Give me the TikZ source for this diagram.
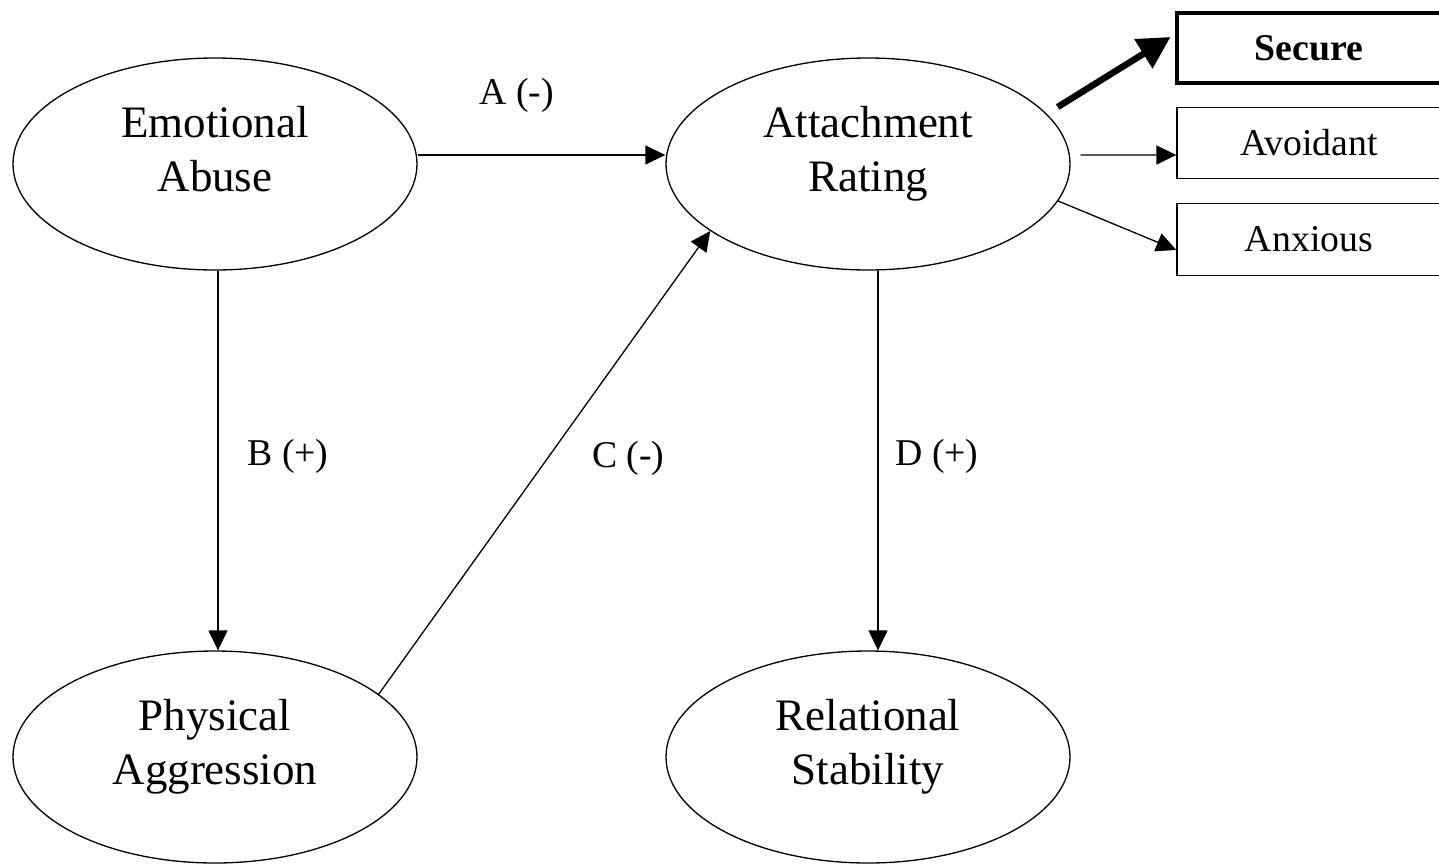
\documentclass[tikz,border=0pt]{standalone}
\usepackage{fontspec}
\setmainfont{Liberation Serif}
\usepackage{tikz}
\usetikzlibrary{shapes.geometric, arrows.meta}
\newcommand{\lowstrut}{\rule[-0.6cm]{0pt}{0pt}}
\tikzstyle{latent} = [ellipse, minimum width=8.08cm, minimum height=4.24cm, inner sep=0pt, align=center, draw=black, line width=0.75pt, font=\fontsize{25.6}{30.7}\selectfont]
\tikzstyle{outcome} = [rectangle, minimum width=5.28cm, minimum height=1.43cm, inner sep=0pt, text centered, draw=black, line width=0.75pt, font=\fontsize{21.5}{25}\selectfont]
\tikzstyle{chosen} = [outcome, minimum height=1.4cm, line width=2.8pt]
\tikzstyle{path label} = [font=\fontsize{21.5}{25}\selectfont]
\tikzstyle{arrow} = [line width=0.75pt, -{Triangle[length=0.4cm, width=0.38cm]}]
\tikzstyle{boldarrow} = [line width=3.7pt, -{Triangle[length=0.64cm, width=0.66cm]}]

\begin{document}
\begin{tikzpicture}[node distance=2cm]
    \useasboundingbox (-4.3,3.28) rectangle (24.48,-14.0);
    \node (ea) [latent] {Emotional\\Abuse\lowstrut};
    \node (ar) [latent, right of=ea, xshift=11.06cm] {Attachment\\Rating\lowstrut};
    \node (pa) [latent, below of=ea, yshift=-9.86cm] {Physical\\Aggression\lowstrut};
    \node (rs) [latent, below of=ar, yshift=-9.86cm] {Relational\\Stability\lowstrut};
    \node (secure) [chosen, right of=ar, xshift=6.82cm, yshift=2.32cm] {\textbf{Secure}};
    \node (avoidant) [outcome, right of=ar, xshift=6.82cm, yshift=0.42cm] {Avoidant};
    \node (anxious) [outcome, right of=ar, xshift=6.82cm, yshift=-1.51cm] {Anxious};
    \draw [arrow] ([yshift=0.18cm]ea.east) -- node (lblA) [path label, pos=0.4, yshift=1.2cm] {A (-)} ([yshift=0.18cm]ar.west);
    \draw [arrow] ([xshift=0.06cm]ea.south) -- node (lblB) [path label, pos=0.49, xshift=1.4cm] {B (+)} ([xshift=0.06cm]pa.north);
    \draw [arrow] (pa.21.6) -- node (lblC) [path label, pos=0.51, xshift=1.61cm] {C (-)} (ar.-157.6);
    \draw [arrow] ([xshift=0.2cm]ar.south) -- node (lblD) [path label, pos=0.49, xshift=1.18cm] {D (+)} ([xshift=0.2cm]rs.north);
    \draw [boldarrow] ([xshift=-0.26cm, yshift=1.14cm]ar.east) -- ([xshift=-0.08cm, yshift=0.22cm]secure.west);
    \draw [arrow] ([xshift=0.2cm, yshift=0.18cm]ar.east) -- ([yshift=-0.24cm]avoidant.west);
    \draw [arrow] (ar.-11.7) -- ([yshift=-0.21cm]anxious.west);
\end{tikzpicture}
\end{document}
